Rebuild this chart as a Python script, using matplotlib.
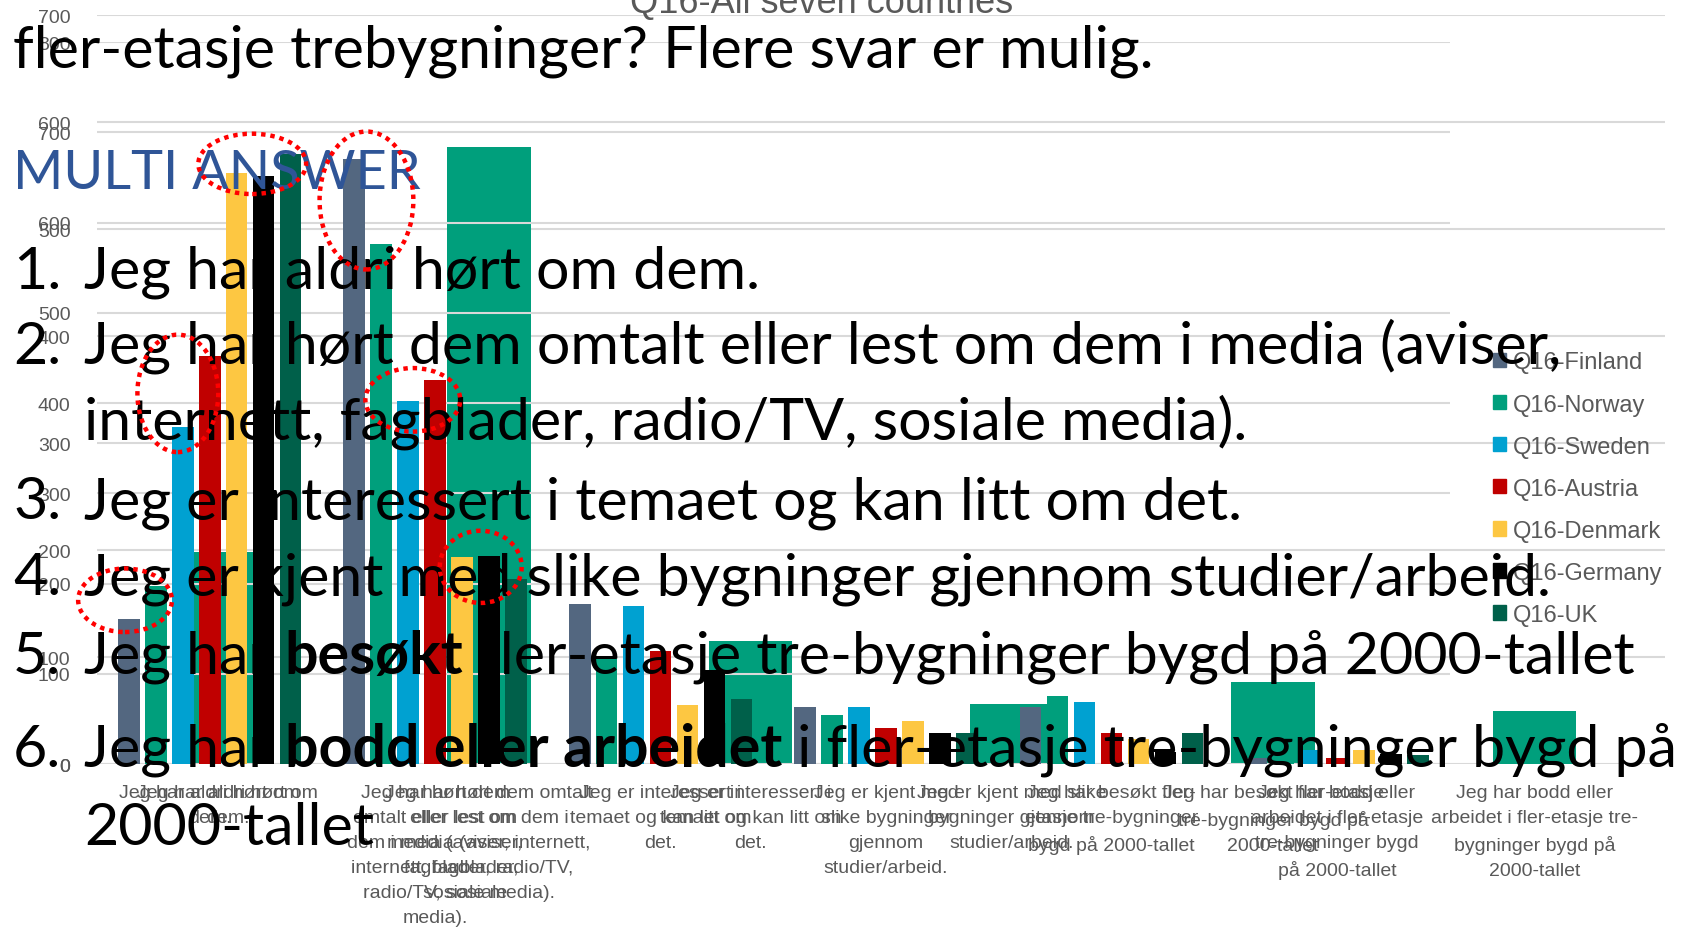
import matplotlib
matplotlib.use("Agg")
import matplotlib.pyplot as plt
from matplotlib import font_manager
from matplotlib.patches import Ellipse, Patch
import numpy as np

# category labels, wrapped the way the two pasted charts wrap them
labels_countries = [
    "Jeg har aldri hørt om\ndem.",
    "Jeg har hørt dem\nomtalt eller lest om\ndem i media (aviser,\ninternett, fagblader,\nradio/TV, sosiale\nmedia).",
    "Jeg er interessert i\ntemaet og kan litt om\ndet.",
    "Jeg er kjent med\nslike bygninger\ngjennom\nstudier/arbeid.",
    "Jeg har besøkt fler-\netasje tre-bygninger\nbygd på 2000-tallet",
    "Jeg har bodd eller\narbeidet i fler-etasje\ntre-bygninger bygd\npå 2000-tallet",
]
labels_all = [
    "Jeg har aldri hørt om\ndem.",
    "Jeg har hørt dem omtalt\neller lest om dem i\nmedia (aviser, internett,\nfagblader, radio/TV,\nsosiale media).",
    "Jeg er interessert i\ntemaet og kan litt om\ndet.",
    "Jeg er kjent med slike\nbygninger gjennom\nstudier/arbeid.",
    "Jeg har besøkt fler-etasje\ntre-bygninger bygd på\n2000-tallet",
    "Jeg har bodd eller\narbeidet i fler-etasje tre-\nbygninger bygd på\n2000-tallet",
]

countries = ["Q16-Finland", "Q16-Norway", "Q16-Sweden", "Q16-Austria",
             "Q16-Denmark", "Q16-Germany", "Q16-UK"]
finland = [161, 670, 178, 63, 63, 7]
norway = [197, 576, 116, 55, 76, 50]
sweden = [373, 402, 175, 63, 69, 16]
austria = [452, 426, 125, 40, 34, 7]
denmark = [655, 229, 66, 48, 28, 16]
germany = [652, 231, 104, 34, 13, 11]
uk = [676, 205, 72, 34, 34, 10]

all_seven = [198, 577, 115, 56, 77, 50]

colors = ["#536780", "#009F7C", "#00A1D1", "#C00000", "#FDC742", "#000000", "#00604A"]
grey = "#595959"
grid_col = "#D9D9D9"

# the chart text looks squeezed, use the narrow face when it is there
try:
    font_manager.findfont("Liberation Sans Narrow", fallback_to_default=False)
    narrow = "Liberation Sans Narrow"
    lab_size, tick_size = 16, 16
except ValueError:
    narrow = "Liberation Sans"
    lab_size, tick_size = 14, 14
lab_spacing = (27.0 / (lab_size * 100 / 72.0) - 0.21) / 0.73

fig = plt.figure(figsize=(16.9, 9.45), dpi=100)


def style_axis(ax):
    ax.yaxis.grid(True, color=grid_col, lw=1.5)
    ax.set_axisbelow(True)
    for s in ax.spines.values():
        s.set_visible(False)
    ax.tick_params(length=0, labelcolor=grey)
    ax.tick_params(axis="y", pad=19, labelsize=tick_size)
    ax.tick_params(axis="x", pad=14, labelsize=lab_size)
    for lbl in ax.get_xticklabels():
        lbl.set_linespacing(lab_spacing)
        lbl.set_family(narrow)
    for lbl in ax.get_yticklabels():
        lbl.set_family(narrow)


# chart underneath: "Q16-All seven countries"
axb = fig.add_axes([0.0574, 0.1903, 0.9279, 0.7926])
x = np.arange(len(all_seven))
axb.bar(x, all_seven, width=0.32, color=colors[1], zorder=2)
axb.set_xlim(-0.5, 5.5)
axb.set_ylim(0, 700)
axb.set_yticks(range(0, 701, 100))
axb.set_xticks(x)
axb.set_xticklabels(labels_all)
style_axis(axb)
axb.set_zorder(0)

# chart on top: seven countries
axa = fig.add_axes([0.0574, 0.1903, 0.8004, 0.7641])
series = [finland, norway, sweden, austria, denmark, germany, uk]
pitch = 0.1196
for j, vals in enumerate(series):
    axa.bar(x + (j - 3) * pitch, vals, width=0.0957, color=colors[j], zorder=2)
axa.set_xlim(-0.5, 5.5)
axa.set_ylim(0, 800)
axa.set_yticks(range(0, 801, 100))
axa.set_xticks(x)
axa.set_xticklabels(labels_countries)
style_axis(axa)
axa.patch.set_visible(False)
axa.set_zorder(1)

handles = [Patch(color=c, label=n) for c, n in zip(colors, countries)]
leg = axa.legend(handles=handles, loc="upper left", bbox_to_anchor=(0.8834, 0.627),
                 bbox_transform=fig.transFigure, frameon=False,
                 handlelength=0.55, handleheight=0.55, handletextpad=0.3,
                 labelspacing=0.85, borderpad=0, borderaxespad=0,
                 prop={"family": "Liberation Sans", "size": 17})
for t in leg.get_texts():
    t.set_color(grey)

fig.text(0.4859, 0.986, "Q16-All seven countries", ha="center", va="baseline",
         fontsize=26, color=grey, family="Liberation Sans")

# slide text pasted over the charts
W, H = 1690.0, 945.0
renderer = fig.canvas.get_renderer()


def text_width(s, **kw):
    t1 = fig.text(0, 0, "|" + s + "|", **kw)
    t2 = fig.text(0, 0, "||", **kw)
    w = t1.get_window_extent(renderer).width - t2.get_window_extent(renderer).width
    t1.remove()
    t2.remove()
    return w / fig.bbox.width


def put_runs(xpx, ypx, runs, size, color="black"):
    xf = xpx / W
    for s, wgt in runs:
        kw = dict(fontsize=size, fontweight=wgt, family="Lato", color=color)
        fig.text(xf, 1 - ypx / H, s, ha="left", va="baseline", zorder=4, **kw)
        xf += text_width(s, **kw)


body = 42.6
put_runs(13, 67, [("fler-etasje trebygninger? Flere svar er mulig.", "normal")], body)
put_runs(13, 189, [("MULTI ANSWER", "normal")], 39, color="#2F5597")
numbers = [("1.", 289), ("2.", 364), ("3.", 519), ("4.", 595), ("5.", 674), ("6.", 767)]
for n, y in numbers:
    put_runs(13, y, [(n, "normal")], body)
put_runs(84, 289, [("Jeg har aldri hørt om dem.", "normal")], body)
put_runs(84, 364, [("Jeg har hørt dem omtalt eller lest om dem i media (aviser,", "normal")], body)
put_runs(84, 440, [("internett, fagblader, radio/TV, sosiale media).", "normal")], body)
put_runs(84, 519, [("Jeg er interessert i temaet og kan litt om det.", "normal")], body)
put_runs(84, 595, [("Jeg er kjent med slike bygninger gjennom studier/arbeid.", "normal")], body)
put_runs(84, 674, [("Jeg har ", "normal"), ("besøkt", "bold"),
                   (" fler-etasje tre-bygninger bygd på 2000-tallet", "normal")], body)
put_runs(84, 767, [("Jeg har ", "normal"), ("bodd eller arbeidet", "bold"),
                   (" i fler-etasje tre-bygninger bygd på", "normal")], body)
put_runs(84, 845, [("2000-tallet", "normal")], body)

# red dotted rings drawn on the slide (x, y, w, h in the shrunk 1568x877 frame)
rings = [(234, 153, 100, 56), (340, 187, 87, 128), (165, 366, 75, 109),
         (383, 372, 88, 59), (446, 527, 76, 67), (116, 558, 87, 59)]
for cx, cy, w, h in rings:
    e = Ellipse((cx / 1568, 1 - cy / 877), w / 1568, h / 877, transform=fig.transFigure,
                fill=False, edgecolor="#FF0000", lw=3.2, linestyle=(0, (1, 1.1)), zorder=5)
    fig.patches.append(e)

fig.savefig("out.png", dpi=100)
